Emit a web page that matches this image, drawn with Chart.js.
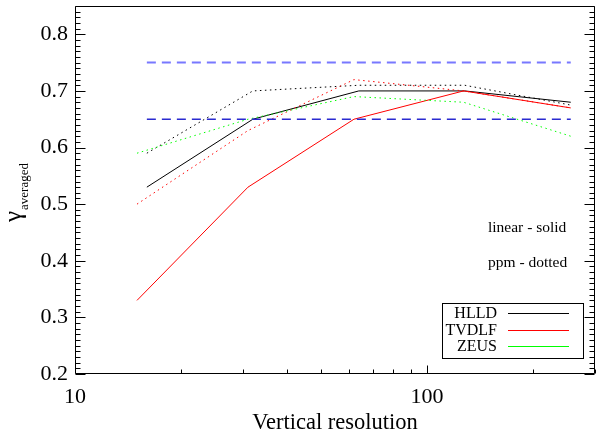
<!DOCTYPE html>
<html><head><meta charset="utf-8">
<script src="https://cdn.jsdelivr.net/npm/chart.js@4.4.0/dist/chart.umd.min.js"></script>
<style>html,body{margin:0;padding:0;background:#fff;}canvas{display:block;}</style>
</head><body>
<canvas id="c" width="602" height="435"></canvas>
<script>
// ---- data ----
const resHLLD  = [16, 32, 64, 128, 256];
const resTVDLF = [15, 31, 62, 127, 256];
const resZEUS  = [15, 31, 62, 127, 256];
const hlldLinear  = [0.53, 0.65, 0.70, 0.70, 0.68];
const hlldPpm     = [0.59, 0.70, 0.71, 0.71, 0.675];
const tvdlfLinear = [0.33, 0.53, 0.65, 0.70, 0.67];
const tvdlfPpm    = [0.50, 0.63, 0.72, 0.70, 0.67];
const zeusPpm     = [0.59, 0.65, 0.69, 0.68, 0.62];
const refLevels = [0.75, 0.65];
const refRange  = [16, 256];
const yTickValues = [0.2, 0.3, 0.4, 0.5, 0.6, 0.7, 0.8];
const xTickValues = [10, 100];
const xMinorValues = [20, 30, 40, 50, 60, 70, 80, 90, 200, 300];
const legendNames = ['HLLD', 'TVDLF', 'ZEUS'];
const legendColors = ['#000000', '#ff0000', '#00ff00'];
const noteLines = ['linear - solid', 'ppm - dotted'];
const xTitle = 'Vertical resolution';
const yTitleMain = 'γ';
const yTitleSub = 'averaged';

const SERIF = "'Liberation Serif', 'Times New Roman', serif";
const pts = (xs, ys) => xs.map((x, i) => ({x: x, y: ys[i]}));
const DOT = [1.5, 3.5];

function line(data, color, dash, width) {
  return {data: data, borderColor: color, borderWidth: width || 1, borderDash: dash || [],
          showLine: true, pointRadius: 0, fill: false, tension: 0};
}

const datasets = [
  line(pts(refRange, [refLevels[0], refLevels[0]]), '#7878ff', [9, 6], 2),
  line(pts(refRange, [refLevels[1], refLevels[1]]), '#2a2ad0', [9, 6], 1.6),
  line(pts(resZEUS, zeusPpm), '#00ff00', DOT),
  line(pts(resTVDLF, tvdlfPpm), '#ff0000', DOT),
  line(pts(resHLLD, hlldPpm), '#000000', DOT),
  line(pts(resTVDLF, tvdlfLinear), '#ff0000'),
  line(pts(resHLLD, hlldLinear), '#000000'),
];

const decor = {
  id: 'decor',
  afterDraw(chart) {
    const ctx = chart.ctx;
    const xs = chart.scales.x, ys = chart.scales.y;
    const a = chart.chartArea;
    const L = Math.round(a.left) + 0.5, R = Math.round(a.right) - 0.5;
    const T = Math.round(a.top) + 0.5, B = Math.round(a.bottom) - 0.5;
    ctx.save();
    ctx.strokeStyle = '#000'; ctx.lineWidth = 1; ctx.setLineDash([]);
    ctx.beginPath();
    ctx.moveTo(L, T); ctx.lineTo(L, B); ctx.lineTo(R, B); ctx.lineTo(R, T); ctx.lineTo(L, T);
    ctx.stroke();
    // y ticks (left + right, inward)
    ctx.beginPath();
    for (let i = 20; i <= 85; i++) {
      const py = Math.round(ys.getPixelForValue(i / 100)) + 0.5;
      const len = (i % 10 === 0) ? 10 : 5;
      ctx.moveTo(L, py); ctx.lineTo(L + len, py);
      ctx.moveTo(R, py); ctx.lineTo(R - len, py);
    }
    // x ticks (bottom, inward)
    xTickValues.concat(xMinorValues).forEach(v => {
      const px = Math.round(xs.getPixelForValue(v)) + 0.5;
      const len = xTickValues.includes(v) ? 8 : 4;
      ctx.moveTo(px, B); ctx.lineTo(px, B - len);
    });
    ctx.stroke();

    // x title
    ctx.fillStyle = '#000';
    ctx.font = '22.5px ' + SERIF;
    ctx.textAlign = 'center'; ctx.textBaseline = 'middle';
    ctx.fillText(xTitle, (a.left + a.right) / 2, 423);

    // y title
    ctx.save();
    ctx.translate(21, 222);
    ctx.rotate(-Math.PI / 2);
    ctx.textAlign = 'left'; ctx.textBaseline = 'alphabetic';
    ctx.font = '25px ' + SERIF;
    ctx.fillText(yTitleMain, 0, 0);
    const w = ctx.measureText(yTitleMain).width;
    ctx.font = '13px ' + SERIF;
    ctx.fillText(yTitleSub, w + 1, 7);
    ctx.restore();

    // notes
    ctx.font = '15.5px ' + SERIF;
    ctx.textAlign = 'left'; ctx.textBaseline = 'middle';
    ctx.fillText(noteLines[0], 488, 228);
    ctx.fillText(noteLines[1], 488, 263);

    // legend
    ctx.strokeStyle = '#000';
    ctx.strokeRect(442.5, 303.5, 141, 55);
    ctx.font = '16px ' + SERIF;
    ctx.textAlign = 'right'; ctx.textBaseline = 'middle';
    const rows = [313, 330, 346];
    legendNames.forEach((n, i) => {
      ctx.fillStyle = '#000';
      ctx.fillText(n, 497, rows[i] + 1);
      ctx.strokeStyle = legendColors[i];
      ctx.beginPath();
      ctx.moveTo(508, rows[i] + 0.5); ctx.lineTo(569, rows[i] + 0.5);
      ctx.stroke();
    });
    ctx.restore();
  }
};

function noPad(s) { s.paddingTop = 0; s.paddingBottom = 0; s.paddingLeft = 0; s.paddingRight = 0; }

new Chart(document.getElementById('c'), {
  type: 'scatter',
  data: {datasets: datasets},
  options: {
    responsive: false, animation: false, devicePixelRatio: 1,
    layout: {padding: {top: 6, right: 7, left: 0, bottom: 0}},
    plugins: {legend: {display: false}, tooltip: {enabled: false}},
    scales: {
      x: {
        type: 'logarithmic', min: 10, max: 300,
        grid: {display: false, drawTicks: false}, border: {display: false},
        afterBuildTicks: s => { s.ticks = xTickValues.map(v => ({value: v})); },
        afterFit: s => { s.height = 61; noPad(s); },
        ticks: {color: '#000', font: {family: SERIF, size: 22}, padding: 10,
                maxRotation: 0, autoSkip: false, callback: v => String(v)}
      },
      y: {
        type: 'linear', min: 0.2, max: 0.85,
        grid: {display: false, drawTicks: false}, border: {display: false},
        afterBuildTicks: s => { s.ticks = yTickValues.map(v => ({value: v})); },
        afterFit: s => { s.width = 75; noPad(s); },
        ticks: {color: '#000', font: {family: SERIF, size: 22}, padding: 7,
                autoSkip: false, callback: v => Number(v).toFixed(1)}
      }
    }
  },
  plugins: [decor]
});
</script>
</body></html>
